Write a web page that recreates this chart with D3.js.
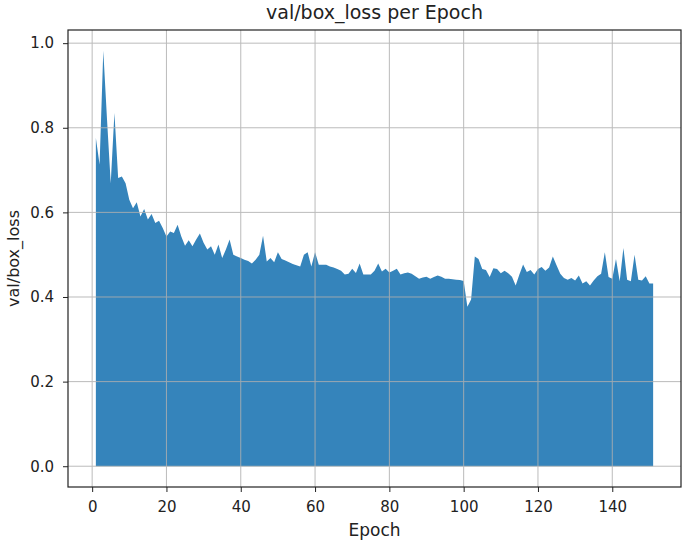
<!DOCTYPE html>
<html>
<head>
<meta charset="utf-8">
<script src="https://cdn.jsdelivr.net/npm/d3@7"></script>
<style>
  html, body { margin: 0; padding: 0; background: #fff; }
  svg { display: block; font-family: "DejaVu Sans", sans-serif; }
</style>
</head>
<body>
<svg id="chart" width="685" height="547"></svg>
<script>
const title = "val/box_loss per Epoch";
const xLabel = "Epoch";
const yLabel = "val/box_loss";
const xTicks = [0, 20, 40, 60, 80, 100, 120, 140];
const yTicks = [0.0, 0.2, 0.4, 0.6, 0.8, 1.0];
const epochs = d3.range(1, 152);
const valBoxLoss = [
  0.776, 0.713, 0.982, 0.820, 0.669, 0.835, 0.681, 0.685, 0.669, 0.630,
  0.610, 0.624, 0.590, 0.608, 0.583, 0.596, 0.575, 0.580, 0.563, 0.543,
  0.555, 0.551, 0.571, 0.543, 0.521, 0.534, 0.520, 0.536, 0.550, 0.528,
  0.512, 0.520, 0.500, 0.524, 0.492, 0.512, 0.536, 0.500, 0.496, 0.492,
  0.488, 0.485, 0.479, 0.488, 0.500, 0.545, 0.484, 0.492, 0.482, 0.506,
  0.490, 0.486, 0.482, 0.478, 0.475, 0.472, 0.500, 0.506, 0.472, 0.506,
  0.476, 0.476, 0.476, 0.472, 0.470, 0.466, 0.462, 0.453, 0.455, 0.467,
  0.457, 0.479, 0.453, 0.453, 0.453, 0.462, 0.479, 0.460, 0.467, 0.458,
  0.462, 0.467, 0.453, 0.456, 0.458, 0.455, 0.449, 0.443, 0.446, 0.448,
  0.443, 0.447, 0.451, 0.448, 0.443, 0.443, 0.442, 0.441, 0.440, 0.438,
  0.377, 0.394, 0.496, 0.490, 0.466, 0.464, 0.447, 0.468, 0.466, 0.456,
  0.462, 0.456, 0.448, 0.427, 0.453, 0.477, 0.459, 0.464, 0.453, 0.466,
  0.471, 0.462, 0.470, 0.496, 0.475, 0.455, 0.445, 0.441, 0.445, 0.439,
  0.451, 0.432, 0.437, 0.427, 0.439, 0.449, 0.455, 0.506, 0.447, 0.443,
  0.490, 0.437, 0.516, 0.441, 0.437, 0.500, 0.441, 0.439, 0.449, 0.432,
  0.432
];

const data = epochs.map((e, i) => ({ epoch: e, value: valBoxLoss[i] }));

const W = 685, H = 547;
const m = { left: 68, right: 4, top: 30, bottom: 60 };
const svg = d3.select("#chart");

const xMin = d3.min(epochs), xMax = d3.max(epochs);
const xPad = (xMax - xMin) * 0.05;
const yMax = d3.max(valBoxLoss), yPad = yMax * 0.05;

const x = d3.scaleLinear().domain([xMin - xPad, xMax + xPad]).range([m.left, W - m.right]);
const y = d3.scaleLinear().domain([0 - yPad, yMax + yPad]).range([H - m.bottom, m.top]);

// area
const area = d3.area().x(d => x(d.epoch)).y0(y(0)).y1(d => y(d.value));
svg.append("path").datum(data).attr("d", area).attr("fill", "#3584bb");

// grid
const grid = svg.append("g").attr("stroke", "#b0b0b0").attr("stroke-width", 1).attr("opacity", 0.85);
xTicks.forEach(t => grid.append("line")
  .attr("x1", x(t)).attr("x2", x(t)).attr("y1", m.top).attr("y2", H - m.bottom));
yTicks.forEach(t => grid.append("line")
  .attr("x1", m.left).attr("x2", W - m.right).attr("y1", y(t)).attr("y2", y(t)));

// axes
const xAxis = d3.axisBottom(x).tickValues(xTicks).tickFormat(d3.format("d")).tickSizeOuter(0).tickSize(5).tickPadding(9);
const yAxis = d3.axisLeft(y).tickValues(yTicks).tickFormat(d3.format(".1f")).tickSizeOuter(0).tickSize(5).tickPadding(9);

const gx = svg.append("g").attr("transform", `translate(0,${H - m.bottom})`).call(xAxis);
const gy = svg.append("g").attr("transform", `translate(${m.left},0)`).call(yAxis);
[gx, gy].forEach(g => {
  g.select(".domain").remove();
  g.selectAll(".tick line").attr("stroke", "#222");
  g.selectAll(".tick text").attr("fill", "#222").style("font-size", "15px").style("font-family", "DejaVu Sans");
});

// frame
svg.append("rect")
  .attr("x", m.left).attr("y", m.top)
  .attr("width", W - m.left - m.right).attr("height", H - m.top - m.bottom)
  .attr("fill", "none").attr("stroke", "#222").attr("stroke-width", 1.2);

// title and labels
svg.append("text").attr("x", (m.left + W - m.right) / 2).attr("y", 19)
  .attr("text-anchor", "middle").style("font-size", "19px").attr("fill", "#222").text(title);
svg.append("text").attr("x", (m.left + W - m.right) / 2).attr("y", 536)
  .attr("text-anchor", "middle").style("font-size", "17px").attr("fill", "#222").text(xLabel);
svg.append("text")
  .attr("transform", `translate(19,${(m.top + H - m.bottom) / 2}) rotate(-90)`)
  .attr("text-anchor", "middle").style("font-size", "16px").attr("fill", "#222").text(yLabel);
</script>
</body>
</html>
